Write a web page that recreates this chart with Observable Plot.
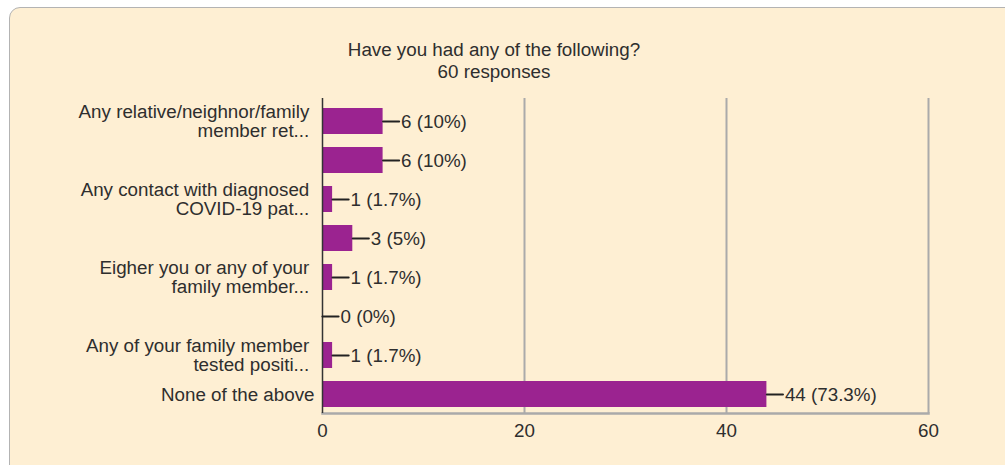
<!DOCTYPE html>
<html>
<head>
<meta charset="utf-8">
<script src="https://cdn.jsdelivr.net/npm/d3@7"></script>
<script src="https://cdn.jsdelivr.net/npm/@observablehq/plot@0.6"></script>
<style>
  html, body { margin: 0; padding: 0; background: #ffffff; overflow: hidden; width: 1005px; height: 465px; }
  #box { position: absolute; left: 9px; top: 7px; width: 1030px; height: 475px; box-sizing: border-box;
         border: 1.5px solid #b3b3b3; border-radius: 11px; background: #feefd3; }
  #title { position: absolute; left: 0; top: 39px; width: 988px; text-align: center;
           font-family: "Liberation Sans", Arial, sans-serif; font-size: 18.8px; line-height: 22px; color: #2e2e2e; }
  #chart { position: absolute; left: 0; top: 0; }
</style>
</head>
<body>
<div id="box"></div>
<div id="title"></div>
<div id="chart"></div>
<script>
// ---- data ----
const titleText = "Have you had any of the following?";
const totalResponses = 60;
const tickLabels = [
  "Any relative/neighnor/family\nmember ret...",
  "",
  "Any contact with diagnosed\nCOVID-19 pat...",
  "",
  "Eigher you or any of your\nfamily member...",
  "",
  "Any of your family member\ntested positi...",
  "None of the above"
];
const counts = [6, 6, 1, 3, 1, 0, 1, 44];
const percentLabels = ["10%", "10%", "1.7%", "5%", "1.7%", "0%", "1.7%", "73.3%"];
const xTicks = [0, 20, 40, 60];
const gridTicks = [20, 40, 60];

const data = counts.map((c, i) => ({i, count: c, label: `${c} (${percentLabels[i]})`}));

document.getElementById("title").innerHTML =
  titleText + "<br>" + totalResponses + " responses";

const leader = {draw(ctx, l) { ctx.moveTo(0, 0); ctx.lineTo(0, -l); }};

const chart = Plot.plot({
  width: 1005,
  height: 465,
  marginLeft: 322,
  marginRight: 77,
  marginTop: 98,
  marginBottom: 52,
  style: {background: "transparent", fontFamily: "'Liberation Sans', Arial, sans-serif", fontSize: "18.8px", color: "#2e2e2e"},
  x: {domain: [0, 60], ticks: xTicks},
  y: {domain: d3.range(counts.length), paddingInner: 0.338, paddingOuter: 0, insetTop: 7.4, insetBottom: 2.7},
  marks: [
    Plot.ruleX(gridTicks, {stroke: "#aaaaaa", strokeWidth: 2, strokeOpacity: 1}),
    Plot.frame({anchor: "bottom", stroke: "#aaaaaa", strokeWidth: 2.5}),
    Plot.barX(data, {x: "count", y: "i", fill: "#9b2390"}),
    Plot.ruleX([0], {stroke: "#333333", strokeWidth: 1.5}),
    Plot.vector(data, {x: "count", y: "i", rotate: 90, length: 16, anchor: "start", shape: leader,
                       stroke: "#222222", strokeWidth: 2.2, fill: "none"}),
    Plot.text(data, {x: "count", y: "i", text: "label", textAnchor: "start", dx: 18, fill: "#2e2e2e"}),
    Plot.axisX({ticks: xTicks, tickSize: 0, tickPadding: 10, label: null, fill: "#2e2e2e"}),
    Plot.axisY({tickFormat: i => tickLabels[i].split("\n").map(s => tickLabels[i].includes("\n") ? s + "\u00a0" : s).join("\n"),
                tickSize: 0, tickPadding: 8, label: null, lineHeight: 1.02, fill: "#2e2e2e"})
  ]
});
document.getElementById("chart").appendChild(chart);
</script>
</body>
</html>
